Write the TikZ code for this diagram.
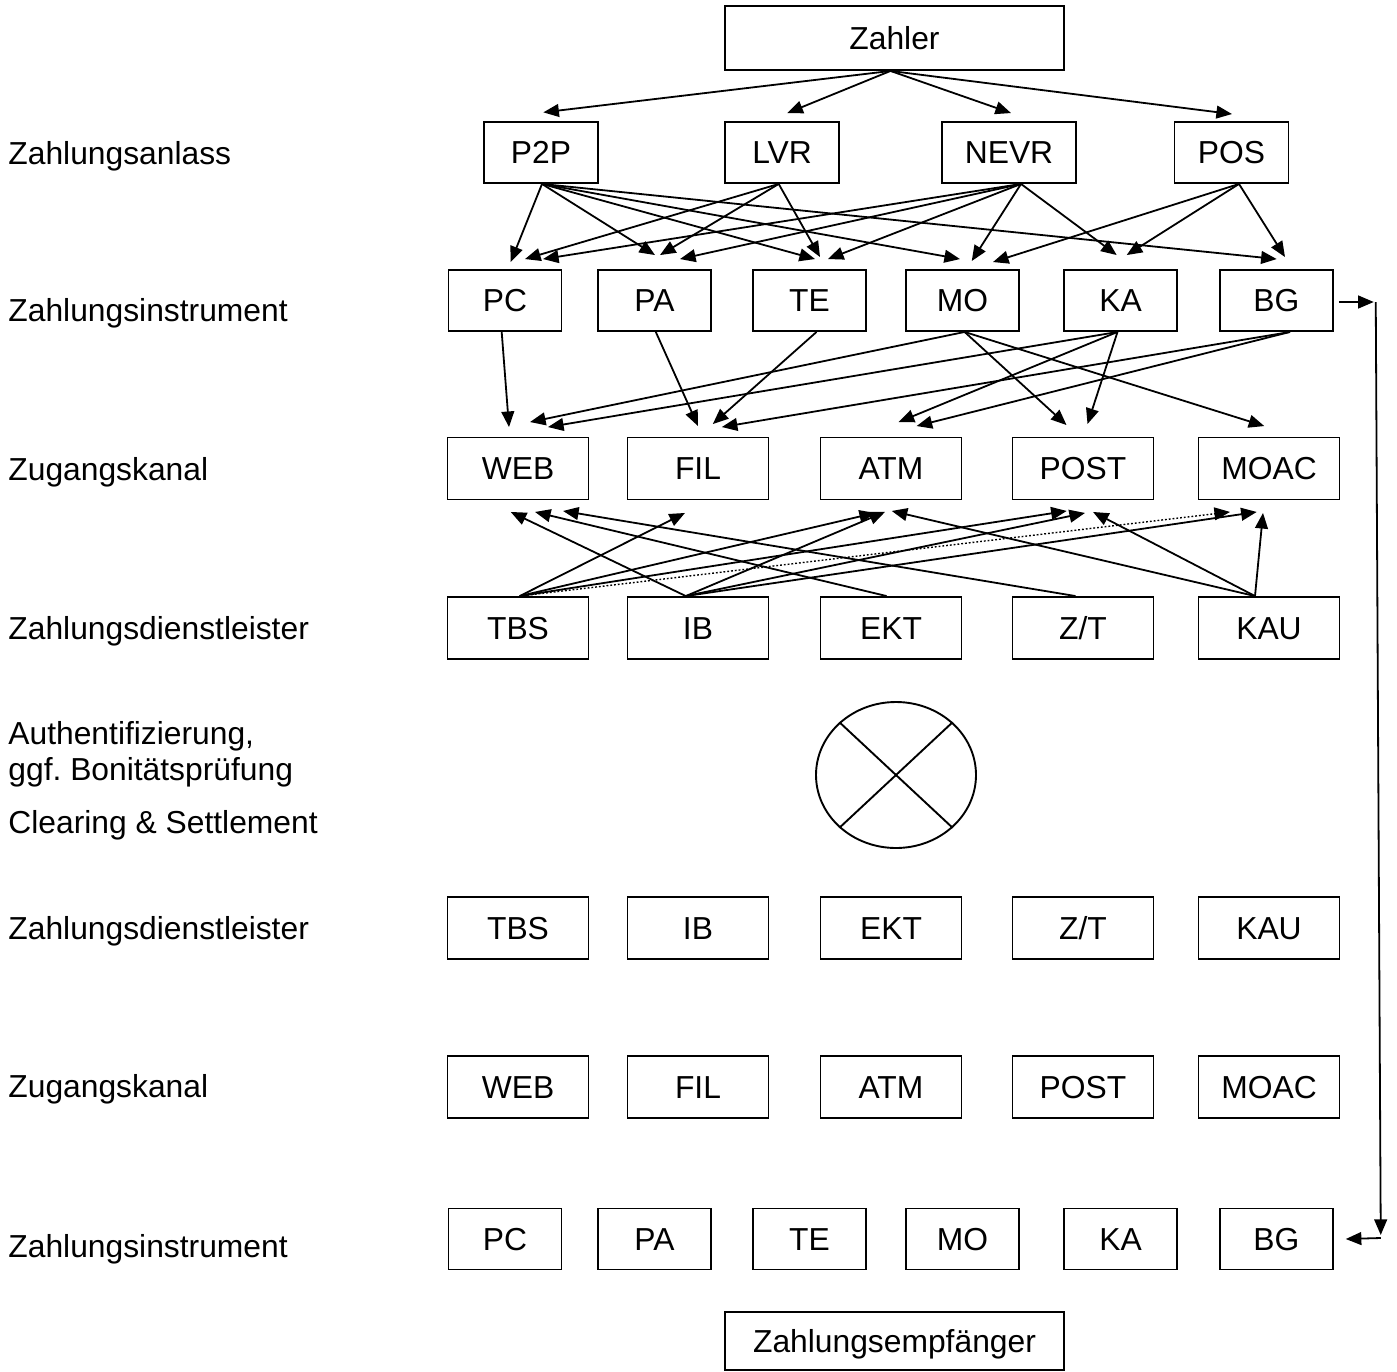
\documentclass[tikz,border=0pt]{standalone}
\usepackage{fontspec}
\setmainfont{Liberation Sans}
\usetikzlibrary{arrows.meta,calc,shapes.geometric}
\frenchspacing
\begin{document}
\begin{tikzpicture}[x=0.5pt,y=-0.5pt,
  txt/.style={font=\fontsize{15.9}{18}\selectfont, text height=11.4pt, text depth=0pt, inner sep=0pt},
  box/.style={txt, draw, line width=0.95pt},
  wide/.style={box, minimum width=169.5pt, minimum height=32pt},
  occ/.style={box, minimum width=57pt, minimum height=30.5pt},
  ins/.style={box, minimum width=56.5pt, minimum height=30.5pt},
  chn/.style={box, minimum width=70.5pt, minimum height=31pt},
  lbl/.style={txt, anchor=west},
  arr/.style={line width=0.9pt, -{Triangle[length=7.8pt,width=6.4pt]}}]
\useasboundingbox (0,0) rectangle (1397,1371);

% left column labels
\node[lbl] (lA) at (8,153) {Zahlungsanlass};
\node[lbl] (lB) at (8,310) {Zahlungsinstrument};
\node[lbl] (lC) at (8,469) {Zugangskanal};
\node[lbl] (lD) at (8,628) {Zahlungsdienstleister};
\node[txt, anchor=west, align=left, text height=, font=\fontsize{15.9}{18}\selectfont] (lE) at (8,751) {Authentifizierung,\\ggf. Bonitätsprüfung};
\node[lbl] (lF) at (8,822) {Clearing \& Settlement};
\node[lbl] (lG) at (8,928) {Zahlungsdienstleister};
\node[lbl] (lH) at (8,1086) {Zugangskanal};
\node[lbl] (lI) at (8,1246) {Zahlungsinstrument};

% payer
\node[wide] (zahler) at (894.5,38) {Zahler};

% occasion
\node[occ] (p2p) at (541,152.5) {P2P};
\node[occ] (lvr) at (782,152.5) {LVR};
\node[occ, minimum width=67pt] (nevr) at (1009,152.5) {NEVR};
\node[occ] (pos) at (1231.5,152.5) {POS};

% instruments (upper)
\node[ins] (pcA) at (505,300.5) {PC};
\node[ins] (paA) at (654.5,300.5) {PA};
\node[ins] (teA) at (809.5,300.5) {TE};
\node[ins] (moA) at (962.4,300.5) {MO};
\node[ins] (kaA) at (1120.5,300.5) {KA};
\node[ins] (bgA) at (1276.3,300.5) {BG};

% access channels (upper)
\node[chn] (webA) at (518,468.5) {WEB};
\node[chn] (filA) at (698,468.5) {FIL};
\node[chn] (atmA) at (891,468.5) {ATM};
\node[chn] (postA) at (1083,468.5) {POST};
\node[chn] (moacA) at (1269,468.5) {MOAC};

% service providers (upper)
\node[chn] (tbsA) at (518,628) {TBS};
\node[chn] (ibA) at (698,628) {IB};
\node[chn] (ektA) at (891,628) {EKT};
\node[chn] (ztA) at (1083,628) {Z/T};
\node[chn] (kauA) at (1269,628) {KAU};

% authentication / clearing symbol
\node[draw, ellipse, line width=0.95pt, minimum width=80pt, minimum height=73pt, inner sep=0pt] (auth) at (896,775) {};
\draw[line width=0.95pt] (auth.137) -- (auth.-43);
\draw[line width=0.95pt] (auth.43) -- (auth.-137);

% service providers (lower)
\node[chn] (tbsB) at (518,928) {TBS};
\node[chn] (ibB) at (698,928) {IB};
\node[chn] (ektB) at (891,928) {EKT};
\node[chn] (ztB) at (1083,928) {Z/T};
\node[chn] (kauB) at (1269,928) {KAU};

% access channels (lower)
\node[chn] (webB) at (518,1087) {WEB};
\node[chn] (filB) at (698,1087) {FIL};
\node[chn] (atmB) at (891,1087) {ATM};
\node[chn] (postB) at (1083,1087) {POST};
\node[chn] (moacB) at (1269,1087) {MOAC};

% instruments (lower)
\node[ins] (pcB) at (505,1239) {PC};
\node[ins] (paB) at (654.5,1239) {PA};
\node[ins] (teB) at (809.5,1239) {TE};
\node[ins] (moB) at (962.4,1239) {MO};
\node[ins] (kaB) at (1120.5,1239) {KA};
\node[ins] (bgB) at (1276.3,1239) {BG};

% payee
\node[wide, minimum height=29pt] (empf) at (894.5,1341) {Zahlungsempfänger};

% payer -> occasions
\draw[arr] ($(zahler.south)+(-4,0)$) -- ($(p2p.north)+(2.3,-8.7)$);
\draw[arr] ($(zahler.south)+(-4,0)$) -- ($(lvr.north)+(5.3,-8)$);
\draw[arr] ($(zahler.south)+(-4,0)$) -- ($(nevr.north)+(2,-8)$);
\draw[arr] ($(zahler.south)+(-4,0)$) -- ($(pos.north)+(0.5,-7)$);

% occasions -> instruments
\draw[arr] ($(p2p.south)+(1,0)$) -- ($(pcA.north)+(5.7,-7)$);
\draw[arr] ($(p2p.south)+(1,0)$) -- ($(paA.north)+(0.5,-14)$);
\draw[arr] ($(p2p.south)+(1,0)$) -- ($(teA.north)+(5.5,-10)$);
\draw[arr] ($(p2p.south)+(1,0)$) -- ($(moA.north)+(-2.4,-10)$);
\draw[arr] ($(p2p.south)+(1,0)$) -- ($(bgA.north)+(0.4,-10)$);
\draw[arr] ($(lvr.south)+(-3.3,0)$) -- ($(pcA.north)+(20,-10)$);
\draw[arr] ($(lvr.south)+(-3.3,0)$) -- ($(paA.north)+(5.5,-14)$);
\draw[arr] ($(lvr.south)+(-3.3,0)$) -- ($(teA.north)+(10.5,-12)$);
\draw[arr] ($(nevr.south)+(12,0)$) -- ($(pcA.north)+(38,-10)$);
\draw[arr] ($(nevr.south)+(12,0)$) -- ($(paA.north)+(25.5,-10)$);
\draw[arr] ($(nevr.south)+(12,0)$) -- ($(teA.north)+(18.5,-10)$);
\draw[arr] ($(nevr.south)+(12,0)$) -- ($(moA.north)+(9.3,-8)$);
\draw[arr] ($(nevr.south)+(12,0)$) -- ($(kaA.north)+(-3.8,-14)$);
\draw[arr] ($(pos.south)+(7.5,0)$) -- ($(moA.north)+(30.6,-7)$);
\draw[arr] ($(pos.south)+(7.5,0)$) -- ($(kaA.north)+(6.2,-14)$);
\draw[arr] ($(pos.south)+(7.5,0)$) -- ($(bgA.north)+(8.7,-12)$);

% instruments -> access channels
\draw[arr] ($(pcA.south)+(-3.3,0)$) -- ($(webA.north)+(-9,-9.5)$);
\draw[arr] ($(paA.south)+(1.3,0)$) -- ($(filA.north)+(0,-10.5)$);
\draw[arr] ($(teA.south)+(7,0)$) -- ($(filA.north)+(14.8,-12.5)$);
\draw[arr] ($(moA.south)+(2.2,0)$) -- ($(webA.north)+(12,-14.5)$);
\draw[arr] ($(moA.south)+(2.2,0)$) -- ($(postA.north)+(-16.5,-11.5)$);
\draw[arr] ($(moA.south)+(2.2,0)$) -- ($(moacA.north)+(-4.7,-10.5)$);
\draw[arr] ($(kaA.south)+(-3,0)$) -- ($(webA.north)+(30,-9.5)$);
\draw[arr] ($(kaA.south)+(-3,0)$) -- ($(atmA.north)+(7.6,-14.5)$);
\draw[arr] ($(kaA.south)+(-3,0)$) -- ($(postA.north)+(4.5,-12.5)$);
\draw[arr] ($(bgA.south)+(13.7,0)$) -- ($(filA.north)+(23.8,-9.5)$);
\draw[arr] ($(bgA.south)+(13.7,0)$) -- ($(atmA.north)+(25.6,-10.5)$);

% service providers -> access channels
\draw[arr] ($(tbsA.north)+(1.7,0)$) -- ($(filA.south)+(-13,12.5)$);
\draw[arr] ($(tbsA.north)+(1.7,0)$) -- ($(atmA.south)+(-16,12.5)$);
\draw[arr] ($(tbsA.north)+(1.7,0)$) -- ($(postA.south)+(-16.3,10.5)$);
\draw[arr, densely dotted, line width=0.7pt] ($(tbsA.north)+(1.7,0)$) -- ($(moacA.south)+(-39,11.5)$);
\draw[arr] ($(ibA.north)+(-12.2,0)$) -- ($(webA.south)+(-7.3,11.5)$);
\draw[arr] ($(ibA.north)+(-12.2,0)$) -- ($(atmA.south)+(-6,11.5)$);
\draw[arr] ($(ibA.north)+(-12.2,0)$) -- ($(postA.south)+(2,12.5)$);
\draw[arr] ($(ibA.north)+(-12.2,0)$) -- ($(moacA.south)+(-12.3,11.5)$);
\draw[arr] ($(ektA.north)+(-4.4,0)$) -- ($(webA.south)+(17,11.5)$);
\draw[arr] ($(ztA.north)+(-7.5,0)$) -- ($(webA.south)+(45,10.5)$);
\draw[arr] ($(kauA.north)+(-14,0)$) -- ($(atmA.south)+(0.7,10.5)$);
\draw[arr] ($(kauA.north)+(-14,0)$) -- ($(postA.south)+(10,11.5)$);
\draw[arr] ($(kauA.north)+(-14,0)$) -- ($(moacA.south)+(-6,12.5)$);

% return path from upper BG to lower BG
\coordinate (rtop) at ($(bgA.east)+(42,1.5)$);
\coordinate (rbot) at ($(bgB.east)+(47,-1)$);
\draw[arr] ($(bgA.east)+(5,1.5)$) -- ($(rtop)+(-2,0)$);
\draw[arr] (rtop) -- ($(rbot)+(0,-3)$);
\draw[arr] (rbot) -- ($(bgB.east)+(12,0)$);
\end{tikzpicture}
\end{document}
